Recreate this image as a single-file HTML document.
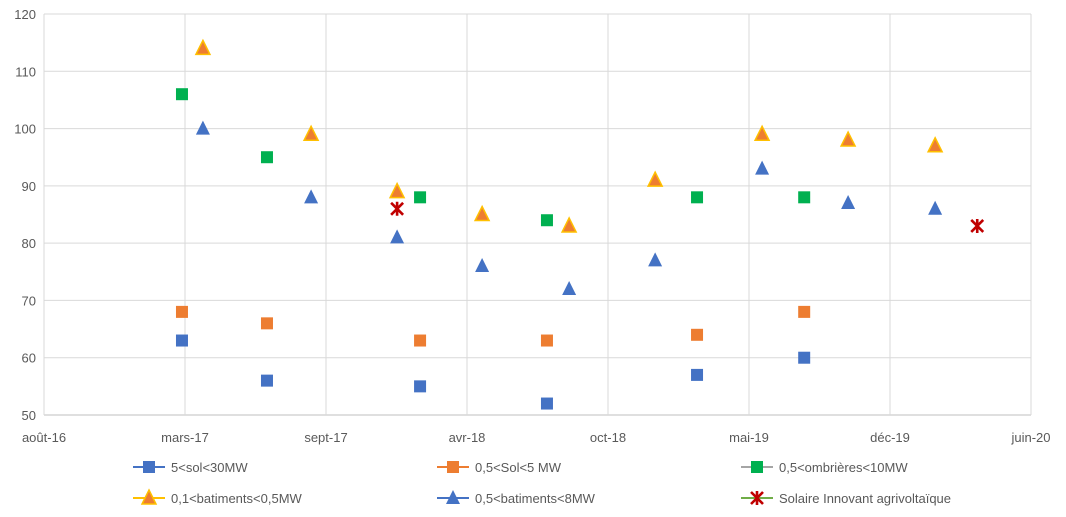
<!DOCTYPE html>
<html><head><meta charset="utf-8"><style>
body{margin:0;background:#fff;width:1066px;height:512px;overflow:hidden;font-family:"Liberation Sans",sans-serif;}
svg text{font-family:"Liberation Sans",sans-serif;font-size:13px;fill:#595959;}
</style></head><body>
<svg id="chart" width="1066" height="512"></svg>
<script>
const xTickLabels=["août-16","mars-17","sept-17","avr-18","oct-18","mai-19","déc-19","juin-20"];
const yTicks=[50,60,70,80,90,100,110,120];
const xA=[6.85,11.07,18.67,24.97,32.42,37.74];
const solBig=[63,56,55,52,57,60];
const solSmall=[68,66,63,63,64,68];
const ombrieres=[106,95,88,84,88,88];
const xB=[7.89,13.26,17.53,21.75,26.07,30.34,35.65,39.92,44.24];
const batSmall=[114,99,89,85,83,91,99,98,97];
const batBig=[100,88,81,76,72,77,93,87,86];
const xC=[17.53,46.33];
const agri=[86,83];
const seriesNames=["5<sol<30MW","0,5<Sol<5 MW","0,5<ombrières<10MW","0,1<batiments<0,5MW","0,5<batiments<8MW","Solaire Innovant agrivoltaïque"];

const svg=document.getElementById('chart');
const NS='http://www.w3.org/2000/svg';
const L=44,R=1031,T=14,B=415;
const xs=v=>L+v*(R-L)/49;
const ys=v=>B-(v-50)*(B-T)/70;
function mk(tag,attrs,parent){const e=document.createElementNS(NS,tag);for(const k in attrs)e.setAttribute(k,attrs[k]);(parent||svg).appendChild(e);return e;}

yTicks.forEach(v=>{
  const l=mk('line',{x1:L,x2:R,y1:ys(v),y2:ys(v),stroke:v===50?'#bfbfbf':'#d9d9d9','stroke-width':1});
  
  
  const t=mk('text',{x:L-8,y:ys(v)+5,'text-anchor':'end'});t.textContent=v;
  
  
});
xTickLabels.forEach((s,i)=>{
  const x=xs(i*7);
  const l=mk('line',{x1:x,x2:x,y1:T,y2:B,stroke:'#d9d9d9','stroke-width':1});
  
  
  const t=mk('text',{x:x,y:B+27,'text-anchor':'middle'});t.textContent=s;
  
  
});

function square(x,y,c,g){mk('rect',{x:x-6,y:y-6,width:12,height:12,fill:c},g);}
function tri(x,y,f,s,g){mk('polygon',{points:`${x},${y-8} ${x+7},${y+6} ${x-7},${y+6}`,fill:f,stroke:s||'none','stroke-width':s?1.5:0},g);}
function cross(x,y,g){mk('path',{d:`M${x-6},${y-6}L${x+6},${y+6}M${x+6},${y-6}L${x-6},${y+6}M${x},${y-7}L${x},${y+7}`,stroke:'#c00000','stroke-width':2.6},g);}

function series(name,xv,yv,draw){
  const g=mk('g',{});
  
  
  yv.forEach((v,i)=>draw(xs(xv[i]),ys(v),g));
}
series('series-5-sol-30mw',xA,solBig,(x,y,g)=>square(x,y,'#4472c4',g));
series('series-sol-5mw',xA,solSmall,(x,y,g)=>square(x,y,'#ed7d31',g));
series('series-ombrieres',xA,ombrieres,(x,y,g)=>square(x,y,'#00b050',g));
series('series-batiments-0-5mw',xB,batSmall,(x,y,g)=>tri(x,y,'#ed7d31','#ffc000',g));
series('series-batiments-8mw',xB,batBig,(x,y,g)=>tri(x,y,'#4472c4',null,g));
series('series-agrivoltaique',xC,agri,(x,y,g)=>cross(x,y,g));

const lcols=[133,437,741],lrows=[467,498];
const lineCols=['#4472c4','#ed7d31','#a5a5a5','#ffc000','#4472c4','#70ad47'];
seriesNames.forEach((n,i)=>{
  const x=lcols[i%3],y=lrows[Math.floor(i/3)];
  const g=mk('g',{});
  
  
  mk('line',{x1:x,x2:x+32,y1:y,y2:y,stroke:lineCols[i],'stroke-width':2},g);
  const cx=x+16;
  if(i==0)square(cx,y,'#4472c4',g);
  if(i==1)square(cx,y,'#ed7d31',g);
  if(i==2)square(cx,y,'#00b050',g);
  if(i==3)tri(cx,y,'#ed7d31','#ffc000',g);
  if(i==4)tri(cx,y,'#4472c4',null,g);
  if(i==5)cross(cx,y,g);
  const t=mk('text',{x:x+38,y:y+5},g);t.textContent=n;
});
</script>
</body></html>
